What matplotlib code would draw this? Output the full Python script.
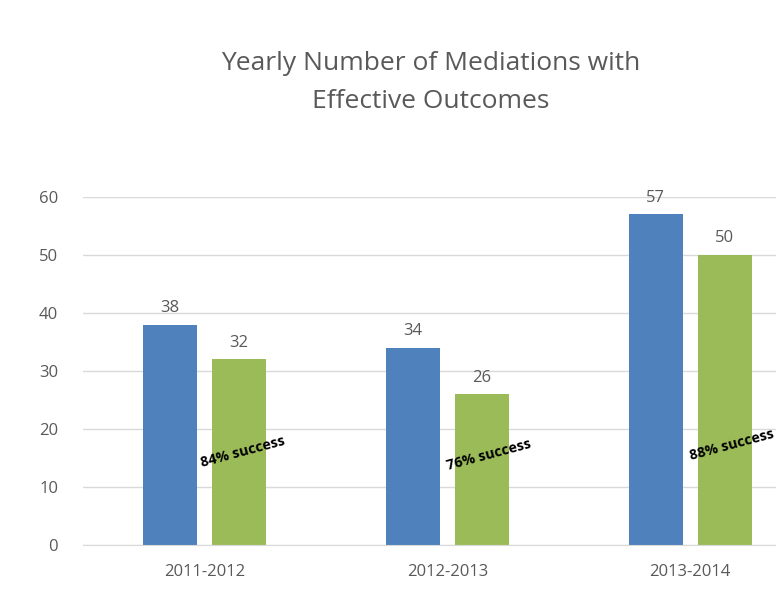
import numpy as np
import matplotlib.pyplot as plt

# --- chart data ---
years = ["2011-2012", "2012-2013", "2013-2014"]
mediations = [38, 34, 57]
effective = [32, 26, 50]
success_labels = ["84% success", "76% success", "88% success"]

blue = "#4F81BD"
green = "#9BBB59"
grey = "#595959"

plt.rcParams["font.family"] = ["Open Sans", "DejaVu Sans"]

fig = plt.figure(figsize=(7.76, 6.02), dpi=100)
ax = fig.add_axes([0.107, 0.0947, 0.939, 0.578])

x = np.arange(len(years))
w = 0.222
off = 0.142
b1 = ax.bar(x - off, mediations, w, color=blue, zorder=2)
b2 = ax.bar(x + off, effective, w, color=green, zorder=2)

for bars in (b1, b2):
    for rect in bars:
        h = rect.get_height()
        ax.text(rect.get_x() + rect.get_width() / 2, h + 1.5, f"{h:g}",
                ha="center", va="bottom", fontsize=12, color=grey)

# rotated success notes
note_pos = [(0.16, 16.0), (1.17, 15.5), (2.17, 17.3)]
for (nx, ny), lab in zip(note_pos, success_labels):
    ax.text(nx, ny, lab, rotation=15, ha="center", va="center",
            fontsize=10.3, fontweight="bold", color="black", zorder=3,
            rotation_mode="anchor")

ax.set_xlim(-0.5, 2.5)
ax.set_ylim(0, 60)
ax.set_yticks(range(0, 61, 10))
ax.set_xticks(x)
ax.set_xticklabels(years)
ax.tick_params(axis="both", length=0, labelsize=12, labelcolor=grey)
ax.tick_params(axis="x", pad=14)
ax.tick_params(axis="y", pad=18)
ax.yaxis.grid(True, color="#D9D9D9", linewidth=1, zorder=0)
for s in ("top", "right", "left"):
    ax.spines[s].set_visible(False)
ax.spines["bottom"].set_color("#D9D9D9")

fig.text(0.555, 0.863, "Yearly Number of Mediations with\nEffective Outcomes",
         ha="center", va="center", fontsize=19, color=grey, linespacing=1.65)

fig.savefig("out.png", dpi=100)
